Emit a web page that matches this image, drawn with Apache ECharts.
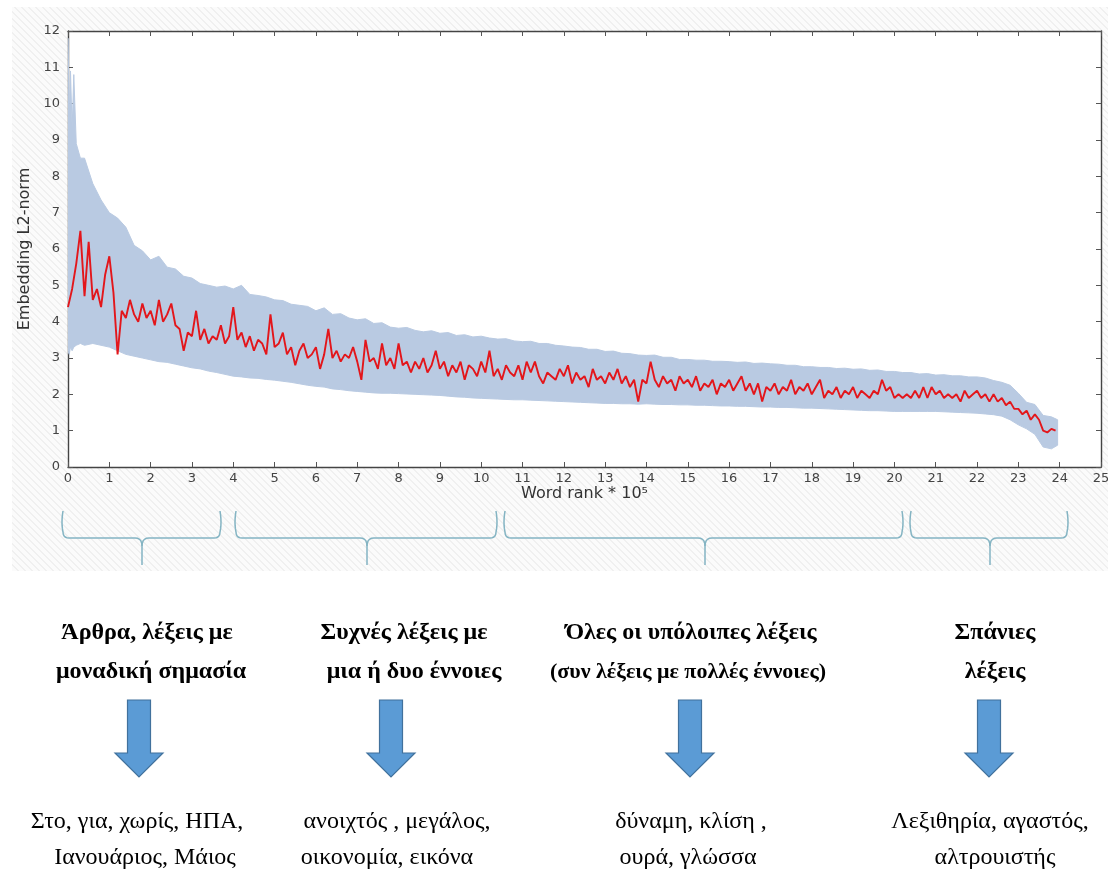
<!DOCTYPE html>
<html><head><meta charset="utf-8">
<script src="https://cdn.jsdelivr.net/npm/echarts@6/dist/echarts.min.js"></script>
<style>html,body{margin:0;padding:0;background:#fff}#c{width:1108px;height:889px}</style>
</head><body><div id="c"></div>
<script>
// ---------- DATA ----------
const rankX = [
0,0.1,0.2,0.3,0.4,0.5,0.6,0.7,0.8,0.9,
1,1.1,1.2,1.3,1.4,1.5,1.6,1.7,1.8,1.9,
2,2.1,2.2,2.3,2.4,2.5,2.6,2.7,2.8,2.9,
3,3.1,3.2,3.3,3.4,3.5,3.6,3.7,3.8,3.9,
4,4.1,4.2,4.3,4.4,4.5,4.6,4.7,4.8,4.9,
5,5.1,5.2,5.3,5.4,5.5,5.6,5.7,5.8,5.9,
6,6.1,6.2,6.3,6.4,6.5,6.6,6.7,6.8,6.9,
7,7.1,7.2,7.3,7.4,7.5,7.6,7.7,7.8,7.9,
8,8.1,8.2,8.3,8.4,8.5,8.6,8.7,8.8,8.9,
9,9.1,9.2,9.3,9.4,9.5,9.6,9.7,9.8,9.9,
10,10.1,10.2,10.3,10.4,10.5,10.6,10.7,10.8,10.9,
11,11.1,11.2,11.3,11.4,11.5,11.6,11.7,11.8,11.9,
12,12.1,12.2,12.3,12.4,12.5,12.6,12.7,12.8,12.9,
13,13.1,13.2,13.3,13.4,13.5,13.6,13.7,13.8,13.9,
14,14.1,14.2,14.3,14.4,14.5,14.6,14.7,14.8,14.9,
15,15.1,15.2,15.3,15.4,15.5,15.6,15.7,15.8,15.9,
16,16.1,16.2,16.3,16.4,16.5,16.6,16.7,16.8,16.9,
17,17.1,17.2,17.3,17.4,17.5,17.6,17.7,17.8,17.9,
18,18.1,18.2,18.3,18.4,18.5,18.6,18.7,18.8,18.9,
19,19.1,19.2,19.3,19.4,19.5,19.6,19.7,19.8,19.9,
20,20.1,20.2,20.3,20.4,20.5,20.6,20.7,20.8,20.9,
21,21.1,21.2,21.3,21.4,21.5,21.6,21.7,21.8,21.9,
22,22.1,22.2,22.3,22.4,22.5,22.6,22.7,22.8,22.9,
23,23.1,23.2,23.3,23.4,23.5,23.6,23.7,23.8,23.9
];
const meanNorm = [
4.4,4.9,5.6,6.5,4.7,6.2,4.6,4.9,4.4,5.3,
5.8,4.8,3.1,4.3,4.1,4.6,4.2,4.0,4.5,4.1,
4.3,3.9,4.6,4.0,4.2,4.5,3.9,3.8,3.2,3.7,
3.6,4.3,3.5,3.8,3.4,3.6,3.5,3.9,3.4,3.6,
4.4,3.5,3.7,3.3,3.6,3.2,3.5,3.4,3.1,4.2,
3.3,3.4,3.7,3.1,3.3,2.8,3.2,3.4,3.0,3.1,
3.3,2.7,3.1,3.8,3.0,3.2,2.9,3.1,3.0,3.3,
2.9,2.4,3.5,2.9,3.0,2.7,3.4,2.8,3.0,2.7,
3.4,2.8,2.9,2.6,2.9,2.7,3.0,2.6,2.8,3.2,
2.7,2.9,2.5,2.8,2.6,2.9,2.4,2.8,2.7,2.5,
2.9,2.6,3.2,2.5,2.7,2.4,2.8,2.6,2.5,2.8,
2.4,2.9,2.6,2.9,2.5,2.3,2.6,2.5,2.4,2.7,
2.5,2.8,2.3,2.6,2.4,2.5,2.2,2.7,2.4,2.5,
2.3,2.6,2.4,2.7,2.3,2.5,2.2,2.4,1.8,2.4,
2.3,2.9,2.4,2.2,2.5,2.3,2.4,2.1,2.5,2.3,
2.4,2.2,2.5,2.1,2.3,2.2,2.4,2.0,2.3,2.2,
2.4,2.1,2.3,2.5,2.1,2.3,2.0,2.3,1.8,2.2,
2.1,2.3,2.0,2.2,2.1,2.4,2.0,2.2,2.1,2.3,
2.0,2.2,2.4,1.9,2.1,2.0,2.2,1.9,2.1,2.0,
2.2,1.9,2.1,2.0,1.9,2.1,2.0,2.4,2.1,2.2,
1.9,2.0,1.9,2.0,1.9,2.1,1.9,2.2,1.9,2.2,
2.0,2.1,1.9,2.0,1.9,2.0,1.8,2.1,1.9,2.0,
2.1,1.9,2.0,1.8,2.0,1.8,1.9,1.7,1.8,1.6,
1.6,1.45,1.55,1.3,1.45,1.3,1.0,0.95,1.05,1.0
];
const bandX = [
0,0.03,0.06,0.1,0.14,0.2,0.3,
0.4,0.6,0.8,
1,1.2,1.4,1.6,1.8, 2,2.2,2.4,2.6,2.8, 3,3.2,3.4,3.6,3.8, 4,4.2,4.4,4.6,4.8,
5,5.2,5.4,5.6,5.8, 6,6.2,6.4,6.6,6.8, 7,7.2,7.4,7.6,7.8, 8,8.2,8.4,8.6,8.8,
9,9.2,9.4,9.6,9.8, 10,10.2,10.4,10.6,10.8, 11,11.2,11.4,11.6,11.8, 12,12.2,12.4,12.6,12.8,
13,13.2,13.4,13.6,13.8, 14,14.2,14.4,14.6,14.8, 15,15.2,15.4,15.6,15.8, 16,16.2,16.4,16.6,16.8,
17,17.2,17.4,17.6,17.8, 18,18.2,18.4,18.6,18.8, 19,19.2,19.4,19.6,19.8, 20,20.2,20.4,20.6,20.8,
21,21.2,21.4,21.6,21.8, 22,22.2,22.4,22.6,22.8, 23,23.2,23.4,23.6,23.8,
23.95
];
const bandHigh = [
11.8,9.6,10.9,9.3,10.8,8.9,8.5,
8.5,7.8,7.35,
7.0,6.85,6.6,6.1,5.95, 5.7,5.8,5.5,5.45,5.25, 5.2,5.05,5.0,4.95,4.98, 4.9,5.0,4.75,4.72,4.68,
4.6,4.58,4.48,4.45,4.42, 4.3,4.38,4.2,4.22,4.1, 4.05,4.08,3.95,3.97,3.85, 3.82,3.84,3.76,3.72,3.75,
3.68,3.7,3.62,3.64,3.58, 3.6,3.55,3.52,3.53,3.47, 3.45,3.46,3.4,3.4,3.35, 3.33,3.3,3.29,3.24,3.24,
3.18,3.19,3.13,3.12,3.08, 3.07,3.08,3.02,3.02,2.96, 2.96,2.94,2.94,2.91,2.91, 2.9,2.88,2.89,2.85,2.86,
2.84,2.83,2.8,2.8,2.76, 2.76,2.74,2.74,2.71,2.72, 2.69,2.7,2.66,2.67,2.63, 2.63,2.6,2.6,2.56,2.57,
2.53,2.54,2.51,2.51,2.48, 2.48,2.45,2.38,2.33,2.25, 2.03,1.78,1.72,1.42,1.38,
1.3
];
const bandLow = [
3.2,3.1,3.3,3.2,3.3,3.35,3.4,
3.35,3.4,3.35,
3.3,3.2,3.1,3.05,3.0, 2.95,2.9,2.88,2.83,2.78, 2.73,2.7,2.64,2.6,2.55, 2.5,2.48,2.45,2.44,2.41,
2.39,2.36,2.33,2.29,2.25, 2.22,2.2,2.15,2.13,2.1, 2.08,2.06,2.04,2.03,2.03, 2.02,2.01,2.0,1.99,1.98,
1.97,1.95,1.93,1.92,1.9, 1.89,1.88,1.87,1.86,1.85, 1.85,1.84,1.83,1.82,1.81, 1.8,1.79,1.78,1.77,1.76,
1.75,1.75,1.74,1.74,1.73, 1.74,1.73,1.72,1.72,1.71, 1.71,1.7,1.7,1.69,1.68, 1.68,1.67,1.67,1.66,1.65,
1.65,1.64,1.64,1.63,1.62, 1.62,1.61,1.6,1.59,1.58, 1.57,1.56,1.55,1.55,1.54, 1.53,1.53,1.53,1.53,1.53,
1.53,1.52,1.51,1.5,1.49, 1.48,1.46,1.44,1.4,1.3, 1.16,1.05,0.9,0.55,0.5,
0.6
];
const xAxisTitle = 'Word rank * 10⁵';
const yAxisTitle = 'Embedding L2-norm';
const groupTitles = [
  ['Άρθρα, λέξεις με', 'μοναδική σημασία'],
  ['Συχνές λέξεις με', 'μια ή δυο έννοιες'],
  ['Όλες οι υπόλοιπες λέξεις', '(συν λέξεις με πολλές έννοιες)'],
  ['Σπάνιες', 'λέξεις']
];
const groupExamples = [
  ['Στο, για, χωρίς, ΗΠΑ,', 'Ιανουάριος, Μάιος'],
  ['ανοιχτός , μεγάλος,', 'οικονομία, εικόνα'],
  ['δύναμη, κλίση ,', 'ουρά, γλώσσα'],
  ['Λεξιθηρία, αγαστός,', 'αλτρουιστής']
];

// ---------- LAYOUT ----------
const titleCx = [[147, 151], [404, 414], [691, 688], [995, 995]];
const titleSize = [[24, 24], [24, 24], [24, 22], [24, 24]];
const exampleCx = [[137, 145], [397, 387], [691, 688], [990, 995]];
const arrowCx = [139, 391, 690, 989];
const braces = [[63, 220, 142], [236, 496, 367], [505, 902, 705], [911, 1067, 990]];

function hatchCanvas() {
  const s = 7;
  const cv = document.createElement('canvas');
  cv.width = s; cv.height = s;
  const ctx = cv.getContext('2d');
  const img = ctx.createImageData(s, s);
  for (let y = 0; y < s; y++) for (let x = 0; x < s; x++) {
    const d = ((x - y) % s + s) % s;
    const v = d < 2 ? 240 : 251;
    const i = (y * s + x) * 4;
    img.data[i] = v; img.data[i + 1] = v; img.data[i + 2] = v; img.data[i + 3] = 255;
  }
  ctx.putImageData(img, 0, 0);
  return cv;
}

function quad(p0, c, p1, n) {
  const pts = [];
  for (let k = 1; k <= n; k++) {
    const t = k / n, u = 1 - t;
    pts.push([u * u * p0[0] + 2 * u * t * c[0] + t * t * p1[0], u * u * p0[1] + 2 * u * t * c[1] + t * t * p1[1]]);
  }
  return pts;
}

const graphics = [];
graphics.push({ type: 'rect', z: -10, silent: true, shape: { x: 12, y: 7, width: 1096, height: 564 },
  style: { fill: { image: hatchCanvas(), repeat: 'repeat' } } });
graphics.push({ type: 'rect', z: -9, silent: true, shape: { x: 68, y: 31, width: 1033, height: 436 },
  style: { fill: '#ffffff' } });

const yTop = 511, yMid = 538, yTip = 565, r = 6;
braces.forEach(([x1, x2, xm]) => {
  let left = [[x1, yTop]];
  left = left.concat(quad([x1, yTop], [x1 - 2, yTop + 12], [x1, yMid - r], 6));
  left = left.concat(quad([x1, yMid - r], [x1, yMid], [x1 + r, yMid], 5));
  left.push([xm - 7, yMid]);
  left = left.concat(quad([xm - 7, yMid], [xm, yMid], [xm, yMid + 8], 5));
  left.push([xm, yTip]);
  let right = [[x2, yTop]];
  right = right.concat(quad([x2, yTop], [x2 + 2, yTop + 12], [x2, yMid - r], 6));
  right = right.concat(quad([x2, yMid - r], [x2, yMid], [x2 - r, yMid], 5));
  right.push([xm + 7, yMid]);
  right = right.concat(quad([xm + 7, yMid], [xm, yMid], [xm, yMid + 8], 5));
  [left, right].forEach(pts => graphics.push({ type: 'polyline', silent: true, shape: { points: pts },
    style: { fill: null, stroke: '#84b4c3', lineWidth: 1.5 } }));
});

arrowCx.forEach(cx => {
  const top = 700, neck = 753, tip = 777, sw = 11.5, hw = 24;
  graphics.push({ type: 'polygon', silent: true,
    shape: { points: [[cx - sw, top], [cx + sw, top], [cx + sw, neck], [cx + hw, neck], [cx, tip], [cx - hw, neck], [cx - sw, neck]] },
    style: { fill: '#5b9bd5', stroke: '#41719c', lineWidth: 1.2 } });
});

function addText(txt, cx, cy, font) {
  graphics.push({ type: 'text', x: cx, y: cy, silent: true,
    style: { text: txt, font: font, fill: '#000', align: 'center', verticalAlign: 'middle', textAlign: 'center', textVerticalAlign: 'middle' } });
}
groupTitles.forEach((lines, g) => {
  addText(lines[0], titleCx[g][0], 633, 'bold ' + titleSize[g][0] + 'px "Liberation Serif"');
  addText(lines[1], titleCx[g][1], 672, 'bold ' + titleSize[g][1] + 'px "Liberation Serif"');
});
groupExamples.forEach((lines, g) => {
  addText(lines[0], exampleCx[g][0], 822, '24px "Liberation Serif"');
  addText(lines[1], exampleCx[g][1], 858, '24px "Liberation Serif"');
});

const axisLineStyle = { color: '#444', width: 1.4 };
const tickStyle = { inside: true, length: 5, lineStyle: { color: '#555', width: 1 } };
const chart = echarts.init(document.getElementById('c'), null, { renderer: 'canvas' });
chart.setOption({
  animation: false,
  backgroundColor: '#ffffff',
  grid: { left: 68, right: 7, top: 31, bottom: 422, containLabel: false, outerBoundsMode: 'none' },
  xAxis: [
    { type: 'value', min: 0, max: 25, interval: 1, position: 'bottom',
      axisLine: { show: true, onZero: false, lineStyle: axisLineStyle },
      axisTick: tickStyle,
      axisLabel: { color: '#444', fontSize: 13, fontFamily: 'DejaVu Sans', margin: 5 },
      splitLine: { show: false },
      name: xAxisTitle, nameLocation: 'middle', nameGap: 18,
      nameTextStyle: { color: '#333', fontSize: 16, fontFamily: 'DejaVu Sans' } },
    { type: 'value', min: 0, max: 25, interval: 1, position: 'top',
      axisLine: { show: true, onZero: false, lineStyle: axisLineStyle },
      axisTick: tickStyle, axisLabel: { show: false }, splitLine: { show: false } }
  ],
  yAxis: [
    { type: 'value', min: 0, max: 12, interval: 1, position: 'left',
      axisLine: { show: true, onZero: false, lineStyle: axisLineStyle },
      axisTick: tickStyle,
      axisLabel: { color: '#444', fontSize: 13, fontFamily: 'DejaVu Sans', margin: 8 },
      splitLine: { show: false },
      name: yAxisTitle, nameLocation: 'middle', nameGap: 25, nameRotate: 90,
      nameTextStyle: { color: '#333', fontSize: 16, fontFamily: 'DejaVu Sans' } },
    { type: 'value', min: 0, max: 12, interval: 1, position: 'right',
      axisLine: { show: true, onZero: false, lineStyle: axisLineStyle },
      axisTick: tickStyle, axisLabel: { show: false }, splitLine: { show: false } }
  ],
  series: [
    { type: 'custom', name: 'spread', silent: true, clip: true,
      data: bandX.map((x, i) => [x, bandLow[i], bandHigh[i]]),
      encode: { x: 0, y: [1, 2] },
      renderItem: function (params, api) {
        if (params.dataIndex !== 0) return null;
        const upper = bandX.map((x, i) => api.coord([x, bandHigh[i]]));
        const lower = bandX.map((x, i) => api.coord([x, bandLow[i]])).reverse();
        return { type: 'polygon', shape: { points: upper.concat(lower) },
          style: { fill: '#b9cae2', stroke: '#b9cae2', lineWidth: 1 } };
      } },
    { type: 'line', name: 'mean', symbol: 'none', silent: true,
      data: rankX.map((x, i) => [x, meanNorm[i]]),
      lineStyle: { color: '#e3161b', width: 1.9 } }
  ],
  graphic: { elements: graphics }
});
</script></body></html>
